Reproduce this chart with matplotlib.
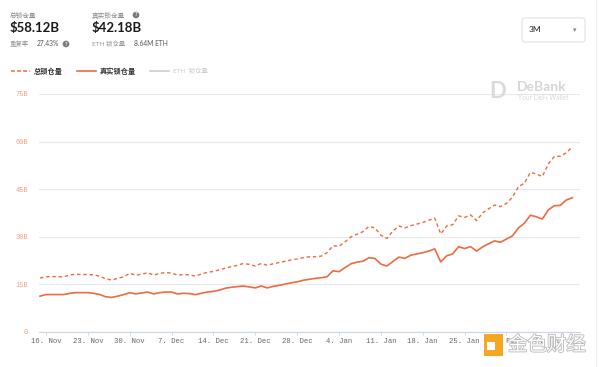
import numpy as np
import matplotlib
matplotlib.use("Agg")
import matplotlib.pyplot as plt
import matplotlib.dates as mdates
import matplotlib.patheffects as pe
from matplotlib.patches import FancyBboxPatch, Rectangle
from matplotlib.lines import Line2D

plt.rcParams['font.family'] = ['Lato', 'Noto Sans CJK SC', 'DejaVu Sans']

# daily values, 2020-11-15 .. 2021-02-12 (billions USD)
start_date = np.datetime64('2020-11-15')
total_tvl = [
    17.0, 17.4, 17.5, 17.4, 17.4, 18.0, 18.2, 18.1, 18.1, 18.0,
    17.6, 16.7, 16.4, 16.9, 17.4, 18.5, 17.9, 18.2, 18.7, 17.9,
    18.5, 18.7, 18.6, 17.9, 18.1, 18.0, 17.6, 18.3, 18.8, 19.1,
    19.6, 20.1, 20.6, 21.0, 21.6, 21.3, 20.8, 21.6, 21.0, 21.5,
    21.9, 22.3, 22.7, 23.0, 23.4, 23.7, 23.7, 23.9, 25.0, 27.2,
    27.0, 28.4, 30.0, 30.8, 31.6, 33.3, 32.8, 30.5, 29.5, 31.8,
    33.4, 32.8, 33.5, 34.0, 34.5, 35.2, 35.9, 30.9, 33.4, 33.8,
    36.6, 36.1, 36.9, 35.1, 37.5, 38.8, 40.0, 39.5, 40.5, 42.5,
    45.8, 46.9, 50.3, 49.8, 49.0, 53.0, 55.3, 55.4, 56.5, 58.3,
]
real_tvl = [
    11.3, 11.8, 11.8, 11.8, 11.8, 12.2, 12.4, 12.4, 12.4, 12.2,
    11.8, 11.1, 10.9, 11.3, 11.8, 12.4, 12.0, 12.3, 12.6, 12.0,
    12.4, 12.6, 12.6, 12.0, 12.2, 12.1, 11.8, 12.2, 12.6, 12.8,
    13.2, 13.8, 14.1, 14.3, 14.5, 14.2, 13.9, 14.5, 13.9, 14.4,
    14.7, 15.1, 15.5, 15.8, 16.3, 16.6, 16.9, 17.1, 17.4, 19.3,
    19.0, 20.3, 21.5, 22.0, 22.3, 23.4, 23.2, 21.4, 20.8, 22.2,
    23.6, 23.2, 24.2, 24.6, 25.0, 25.5, 26.2, 22.1, 24.0, 24.6,
    26.9, 26.3, 26.9, 25.5, 26.8, 27.8, 28.7, 28.3, 29.3, 30.3,
    32.8, 34.3, 36.8, 36.3, 35.6, 38.5, 39.8, 39.9, 41.6, 42.3,
]
dates = start_date + np.arange(len(total_tvl))

y_ticks = [0, 15, 30, 45, 60, 75]
y_labels = ['0', '15B', '30B', '45B', '60B', '75B']
tick_dates = np.arange(np.datetime64('2020-11-16'), np.datetime64('2021-02-13'), 7)

line_color = '#ee6a40'
W, H = 600, 367


def px(x, y):
    return x / W, 1 - y / H


fig = plt.figure(figsize=(6, 3.67), dpi=100)
ax = fig.add_axes([39 / W, 35 / H, 541 / W, 238 / H])

ax.plot(dates, total_tvl, color=line_color, lw=1.0, ls=(0, (2.5, 2)))
ax.plot(dates, real_tvl, color=line_color, lw=1.2)

ax.set_ylim(0, 75)
x0 = np.datetime64('2020-11-16') - np.timedelta64(28, 'h')
x1 = np.datetime64('2020-11-16') + np.timedelta64(int(89.3 * 24), 'h')
ax.set_xlim(x0, x1)

ax.set_yticks(y_ticks)
ax.set_yticklabels(y_labels, family='Liberation Mono', fontsize=5, color='#f0a283')
ax.set_xticks(tick_dates)
ax.xaxis.set_major_formatter(mdates.DateFormatter('%-d. %b'))
for lbl in ax.get_xticklabels():
    lbl.set_family('Liberation Mono')
    lbl.set_fontsize(5.2)
    lbl.set_color('#666666')
ax.tick_params(axis='y', length=0, pad=8)
ax.tick_params(axis='x', length=2.5, width=0.6, color='#ccd6eb', pad=2)

ax.grid(axis='y', color='#e8e8e8', lw=0.8)
ax.set_axisbelow(True)
for s in ['top', 'right', 'left']:
    ax.spines[s].set_visible(False)
ax.spines['bottom'].set_color('#ccd6eb')
ax.spines['bottom'].set_linewidth(0.8)

# header
fig.text(*px(10, 15), '总锁仓量', fontsize=4.8, color='#8a8a8a', va='center')
fig.text(*px(10, 28), '$58.12B', fontsize=9.5, weight='bold', color='#1a1a1a', va='center')
fig.text(*px(10, 44), '重复率', fontsize=4.6, color='#999999', va='center')
fig.text(*px(37, 44), '27.43%', fontsize=4.8, color='#555555', va='center')
fig.text(*px(66, 44), '?', fontsize=4, color='white', va='center', ha='center', weight='bold',
         bbox=dict(boxstyle='circle,pad=0.15', fc='#7a7a7a', ec='none'))
fig.text(*px(92, 15), '真实锁仓量', fontsize=4.8, color='#8a8a8a', va='center')
fig.text(*px(136, 15), '?', fontsize=4, color='white', va='center', ha='center', weight='bold',
         bbox=dict(boxstyle='circle,pad=0.15', fc='#7a7a7a', ec='none'))
fig.text(*px(92, 28), '$42.18B', fontsize=9.5, weight='bold', color='#1a1a1a', va='center')
fig.text(*px(92, 44), 'ETH 锁仓量', fontsize=4.6, color='#999999', va='center')
fig.text(*px(134, 44), '8.64M ETH', fontsize=4.8, color='#555555', va='center')

# legend
fig.add_artist(Line2D([11 / W, 30 / W], [1 - 71 / H] * 2, color=line_color, lw=1.1, ls=(0, (2.5, 1.5))))
fig.text(*px(34, 71), '总锁仓量', fontsize=5.2, weight='bold', color='#333333', va='center')
fig.add_artist(Line2D([77 / W, 96 / W], [1 - 71 / H] * 2, color=line_color, lw=1.2))
fig.text(*px(100, 71), '真实锁仓量', fontsize=5.2, weight='bold', color='#333333', va='center')
fig.add_artist(Line2D([150 / W, 169 / W], [1 - 71 / H] * 2, color='#cccccc', lw=1.2))
fig.text(*px(173, 71), 'ETH  锁仓量', fontsize=4.6, color='#cccccc', va='center')

# range selector
fig.add_artist(FancyBboxPatch((522 / W, 1 - 42 / H), 63 / W, 24 / H,
                              boxstyle='round,pad=0,rounding_size=0.006',
                              fc='white', ec='#dddddd', lw=0.7, transform=fig.transFigure))
fig.text(*px(529, 30), '3M', fontsize=6, color='#222222', va='center')
fig.text(*px(575, 30), '▾', fontsize=5, color='#888888', va='center', ha='center',
         family='DejaVu Sans')

# DeBank watermark
fig.text(*px(498, 91), 'D', fontsize=16, weight='bold', color='#dadada', va='center', ha='center')
fig.text(*px(517, 87), 'DeBank', fontsize=10, weight='bold', color='#d6d6d6', va='center')
fig.text(*px(518, 97.5), 'Your DeFi Wallet', fontsize=4.8, color='#d8d8d8', va='center')

# page edge
fig.add_artist(Line2D([596 / W] * 2, [0, 1], color='#eeeeee', lw=0.8))

# jinse watermark
fig.add_artist(Rectangle((484 / W, 1 - 356 / H), 19 / W, 22 / H, fc='#f5a623', ec='none',
                         transform=fig.transFigure))
fig.add_artist(Rectangle((487 / W, 1 - 350 / H), 8 / W, 8 / H, fc='white', ec='none',
                         transform=fig.transFigure))
fig.text(*px(508, 345), '金色财经', fontsize=14, color='white', va='center',
         family='Noto Sans CJK SC',
         path_effects=[pe.withStroke(linewidth=1.2, foreground='#b8b8b8')])

fig.savefig('out.png', dpi=100)
